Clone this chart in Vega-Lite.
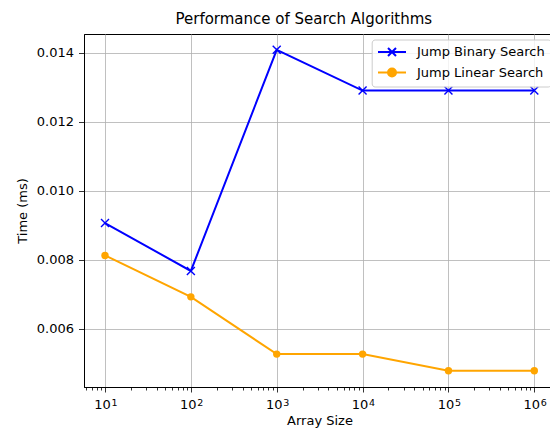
{
  "$schema": "https://vega.github.io/schema/vega-lite/v6.json",
  "width": 471,
  "height": 353,
  "autosize": {"type": "none"},
  "padding": {"left": 84, "top": 34, "right": 0, "bottom": 45},
  "background": "white",
  "config": {
    "font": "DejaVu Sans",
    "view": {"stroke": "black", "strokeWidth": 1}
  },
  "title": {
    "text": "Performance of Search Algorithms",
    "fontSize": 15,
    "fontWeight": "normal",
    "color": "black",
    "offset": 7,
    "dx": -15.7
  },
  "data": {
    "values": [
      {"size": 10, "time": 0.00906, "algo": "Jump Binary Search"},
      {"size": 100, "time": 0.00767, "algo": "Jump Binary Search"},
      {"size": 1000, "time": 0.01408, "algo": "Jump Binary Search"},
      {"size": 10000, "time": 0.01290, "algo": "Jump Binary Search"},
      {"size": 100000, "time": 0.01290, "algo": "Jump Binary Search"},
      {"size": 1000000, "time": 0.01290, "algo": "Jump Binary Search"},
      {"size": 10, "time": 0.00812, "algo": "Jump Linear Search"},
      {"size": 100, "time": 0.00692, "algo": "Jump Linear Search"},
      {"size": 1000, "time": 0.00526, "algo": "Jump Linear Search"},
      {"size": 10000, "time": 0.00526, "algo": "Jump Linear Search"},
      {"size": 100000, "time": 0.00478, "algo": "Jump Linear Search"},
      {"size": 1000000, "time": 0.00478, "algo": "Jump Linear Search"}
    ]
  },
  "encoding": {
    "y": {
      "field": "time",
      "type": "quantitative",
      "scale": {"domain": [0.004307, 0.014539], "nice": false, "zero": false},
      "axis": {
        "title": "Time (ms)",
        "values": [0.006, 0.008, 0.010, 0.012, 0.014],
        "format": ".3f",
        "grid": true,
        "gridColor": "#b0b0b0",
        "gridWidth": 0.8,
        "tickSize": 5.5,
        "tickColor": "black",
        "tickWidth": 0.8,
        "domainColor": "black",
        "domainWidth": 1,
        "labelFontSize": 13,
        "labelColor": "black",
        "labelPadding": 5,
        "labelFlush": false,
        "titleFontSize": 13,
        "titleFontWeight": "normal",
        "titleColor": "black",
        "titlePadding": 7
      }
    }
  },
  "resolve": {"axis": {"x": "independent"}},
  "layer": [
    {
      "encoding": {
        "x": {
          "field": "size",
          "type": "quantitative",
          "scale": {"type": "log", "domain": [5.694, 1742000], "nice": false},
          "axis": {
            "orient": "bottom",
            "title": "Array Size",
            "values": [6,7,8,9,10,20,30,40,50,60,70,80,90,100,200,300,400,500,600,700,800,900,1000,2000,3000,4000,5000,6000,7000,8000,9000,10000,20000,30000,40000,50000,60000,70000,80000,90000,100000,200000,300000,400000,500000,600000,700000,800000,900000,1000000],
            "labelExpr": "abs(log(datum.value)/LN10 - round(log(datum.value)/LN10)) < 0.000001 ? '10' : ''",
            "grid": true,
            "gridColor": "#b0b0b0",
            "gridWidth": 0.8,
            "gridOpacity": {"condition": {"test": "abs(log(datum.value)/LN10 - round(log(datum.value)/LN10)) < 0.000001", "value": 1}, "value": 0},
            "tickSize": {"condition": {"test": "abs(log(datum.value)/LN10 - round(log(datum.value)/LN10)) < 0.000001", "value": 5}, "value": 3},
            "tickColor": "black",
            "tickWidth": 0.8,
            "domainColor": "black",
            "domainWidth": 1,
            "labelFontSize": 13,
            "labelColor": "black",
            "labelPadding": 6,
            "labelOffset": -3,
            "labelFlush": false,
            "labelOverlap": false,
            "titleFontSize": 13,
            "titleFontWeight": "normal",
            "titleColor": "black",
            "titlePadding": 3
          }
        }
      },
      "layer": [
        {
          "mark": {"type": "line", "strokeWidth": 2},
          "encoding": {
            "color": {
              "field": "algo",
              "type": "nominal",
              "scale": {"domain": ["Jump Binary Search", "Jump Linear Search"], "range": ["#0000ff", "#ffa500"]},
              "legend": {
                "title": null,
                "orient": "none",
                "legendX": 287.7,
                "legendY": 5.5,
                "fillColor": "rgba(255,255,255,0.8)",
                "strokeColor": "#cccccc",
                "cornerRadius": 3,
                "padding": 6,
                "symbolSize": 100,
                "symbolOffset": 7.8,
                "labelOffset": 18.5,
                "labelFontSize": 13,
                "labelColor": "black",
                "rowPadding": 3.5,
                "encode": {
                  "symbols": {
                    "update": {
                      "shape": {"signal": "datum.value === 'Jump Binary Search' ? 'M-2.8,0H2.8M-0.8,-0.8L0.8,0.8M-0.8,0.8L0.8,-0.8' : 'M-2.8,0H2.8M-0.8,0A0.8,0.8 0 1,1 0.8,0A0.8,0.8 0 1,1 -0.8,0Z'"},
                      "fill": {"signal": "datum.value === 'Jump Binary Search' ? 'transparent' : '#ffa500'"},
                      "stroke": {"signal": "datum.value === 'Jump Binary Search' ? '#0000ff' : '#ffa500'"},
                      "strokeWidth": {"value": 2},
                      "opacity": {"value": 1}
                    }
                  }
                }
              }
            }
          }
        },
        {
          "transform": [{"filter": "datum.algo === 'Jump Binary Search'"}],
          "mark": {"type": "point", "shape": "M-1,-1L1,1M-1,1L1,-1", "filled": false, "size": 64, "strokeWidth": 1.4, "color": "#0000ff", "opacity": 1}
        },
        {
          "transform": [{"filter": "datum.algo === 'Jump Linear Search'"}],
          "mark": {"type": "point", "shape": "circle", "filled": true, "size": 55, "color": "#ffa500", "opacity": 1}
        }
      ]
    },
    {
      "mark": {"type": "point", "opacity": 0},
      "encoding": {
        "x": {
          "field": "size",
          "type": "quantitative",
          "scale": {"type": "log", "domain": [5.694, 1742000], "nice": false},
          "axis": {
            "orient": "bottom",
            "title": null,
            "values": [10, 100, 1000, 10000, 100000, 1000000],
            "labelExpr": "toString(round(log(datum.value)/LN10))",
            "grid": false,
            "ticks": false,
            "tickSize": 0,
            "domain": false,
            "labelFontSize": 9.5,
            "labelColor": "black",
            "labelPadding": 10,
            "labelOffset": 9,
            "labelFlush": false,
            "labelOverlap": false
          }
        }
      }
    }
  ]
}
